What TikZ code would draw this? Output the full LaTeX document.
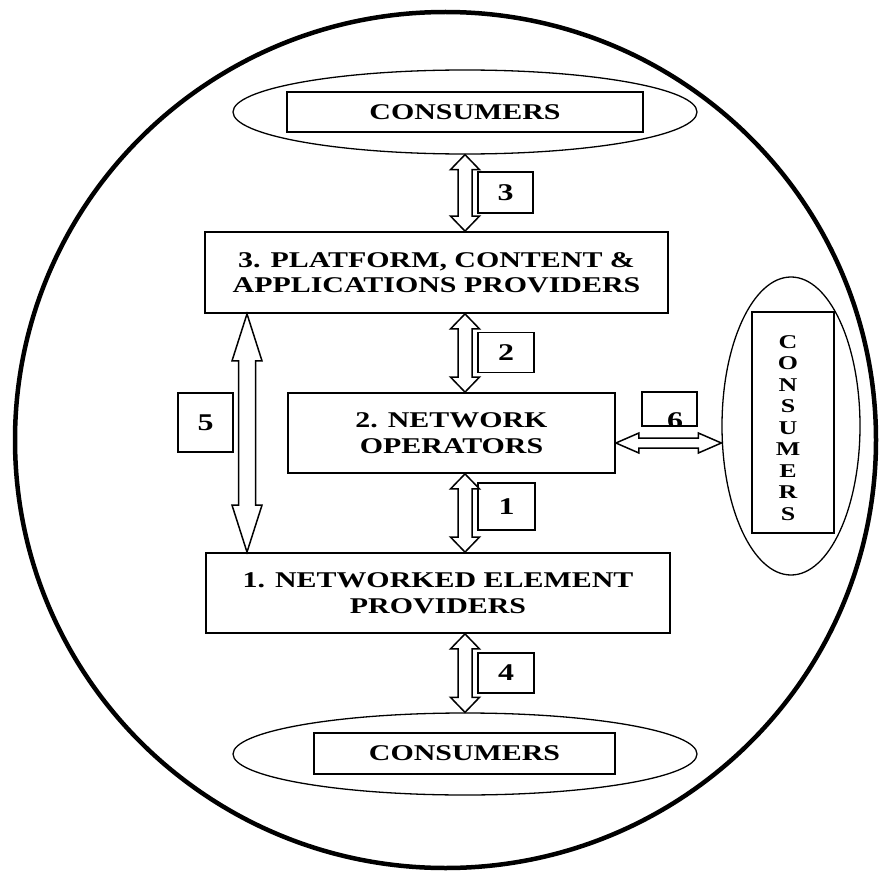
\documentclass[tikz,border=0pt]{standalone}
\usepackage{fontspec}
\usetikzlibrary{calc,shapes.geometric}
\newfontfamily\lblfont{Liberation Serif}[FakeStretch=1.33]

% open block arrow with a head at both ends:
% #1 first tip, #2 second tip, #3 half shaft width, #4 half head width, #5 head length
\newcommand{\dblarrow}[5]{%
  \path (#1) coordinate (da) (#2) coordinate (db);
  \path ($(da)!#5!(db)$) coordinate (ha) ($(db)!#5!(da)$) coordinate (hb);
  \draw[blockarrow] (da) -- ($(ha)!#4!90:(db)$) -- ($(ha)!#3!90:(db)$)
    -- ($(hb)!#3!-90:(da)$) -- ($(hb)!#4!-90:(da)$) -- (db)
    -- ($(hb)!#4!90:(da)$) -- ($(hb)!#3!90:(da)$)
    -- ($(ha)!#3!-90:(db)$) -- ($(ha)!#4!-90:(db)$) -- cycle;
}

\tikzset{
  outerframe/.style={line width=4.5pt},
  ell/.style={draw, ellipse, line width=1.3pt, inner sep=0pt},
  box/.style={draw, line width=1.8pt, fill=white, inner sep=0pt, align=center,
    font=\lblfont\bfseries\fontsize{22.5}{25.5}\selectfont},
  vtext/.style={inner sep=0pt, align=center,
    font=\lblfont\bfseries\fontsize{19.5}{21.5}\selectfont},
  numbox/.style={draw, line width=1.8pt, inner sep=0pt,
    font=\lblfont\bfseries\fontsize{24}{24}\selectfont},
  numtext/.style={inner sep=0pt, font=\lblfont\bfseries\fontsize{24}{24}\selectfont},
  blockarrow/.style={draw, line width=1.5pt, fill=white, line join=miter},
}

\begin{document}
\begin{tikzpicture}[x=1pt, y=-1pt]
\useasboundingbox (0,0) rectangle (881,872);

% outer boundary
\draw[outerframe] (445.5,440) ellipse [x radius=430.5, y radius=428];

% consumer groups
\node[ell, minimum width=464, minimum height=84] (topell) at (465,112) {};
\node[box, minimum width=356, minimum height=40] (topcons) at (465,112) {CONSUMERS};

\node[ell, minimum width=464, minimum height=82] (botell) at (465,754) {};
\node[box, minimum width=301, minimum height=41] (botcons) at (464.5,753.5) {CONSUMERS};

\node[ell, minimum width=138, minimum height=298] (rightell) at (791,426) {};
\node[box, minimum width=82, minimum height=221] (rightcons) at (793,422.5) {};
\node[vtext] (rightlbl) at (788,428) {C\\O\\N\\S\\U\\M\\E\\R\\S};

% layers
\node[box, minimum width=463, minimum height=81] (b3) at (436.5,272.5)
  {3. PLATFORM, CONTENT \&\\APPLICATIONS PROVIDERS};
\node[box, minimum width=327, minimum height=80] (b2) at (451.5,433)
  {2. NETWORK\\OPERATORS};
\node[box, minimum width=464, minimum height=80] (b1) at (438,593)
  {1. NETWORKED ELEMENT\\PROVIDERS};

% numbered link labels
\node[numbox, minimum width=55, minimum height=41] (n3) at (505.5,192.5) {3};
\node[numbox, minimum width=56, minimum height=40] (n2) at (506,352.5) {2};
\node[numbox, minimum width=57, minimum height=47] (n1) at (506.5,506.5) {1};
\node[numbox, minimum width=56, minimum height=40] (n4) at (506,673) {4};
\node[numbox, minimum width=55, minimum height=59] (n5) at (205.5,422.5) {5};
\node[numbox, minimum width=55, minimum height=34] (n6) at (669.5,409) {};
\begin{scope}
  \clip (n6.north west) rectangle (n6.south east);
  \node[numtext, anchor=north] (n6text) at (675,412) {6};
\end{scope}

% arrow axes
\coordinate (axis) at (465,0);
\coordinate (c5) at (247,0);
\coordinate (c6) at (0,443);

% links
\dblarrow{topell.south}{b3.north -| axis}{7pt}{14.5pt}{15pt}
\dblarrow{b3.south -| axis}{b2.north -| axis}{7pt}{14.5pt}{15pt}
\dblarrow{b2.south -| axis}{b1.north -| axis}{7pt}{14.5pt}{15pt}
\dblarrow{b1.south -| axis}{botell.north}{7pt}{14.5pt}{15pt}
\dblarrow{b3.south -| c5}{b1.north -| c5}{8.5pt}{15pt}{47pt}
\dblarrow{b2.east |- c6}{rightell.west |- c6}{5pt}{10pt}{23pt}
\end{tikzpicture}
\end{document}
